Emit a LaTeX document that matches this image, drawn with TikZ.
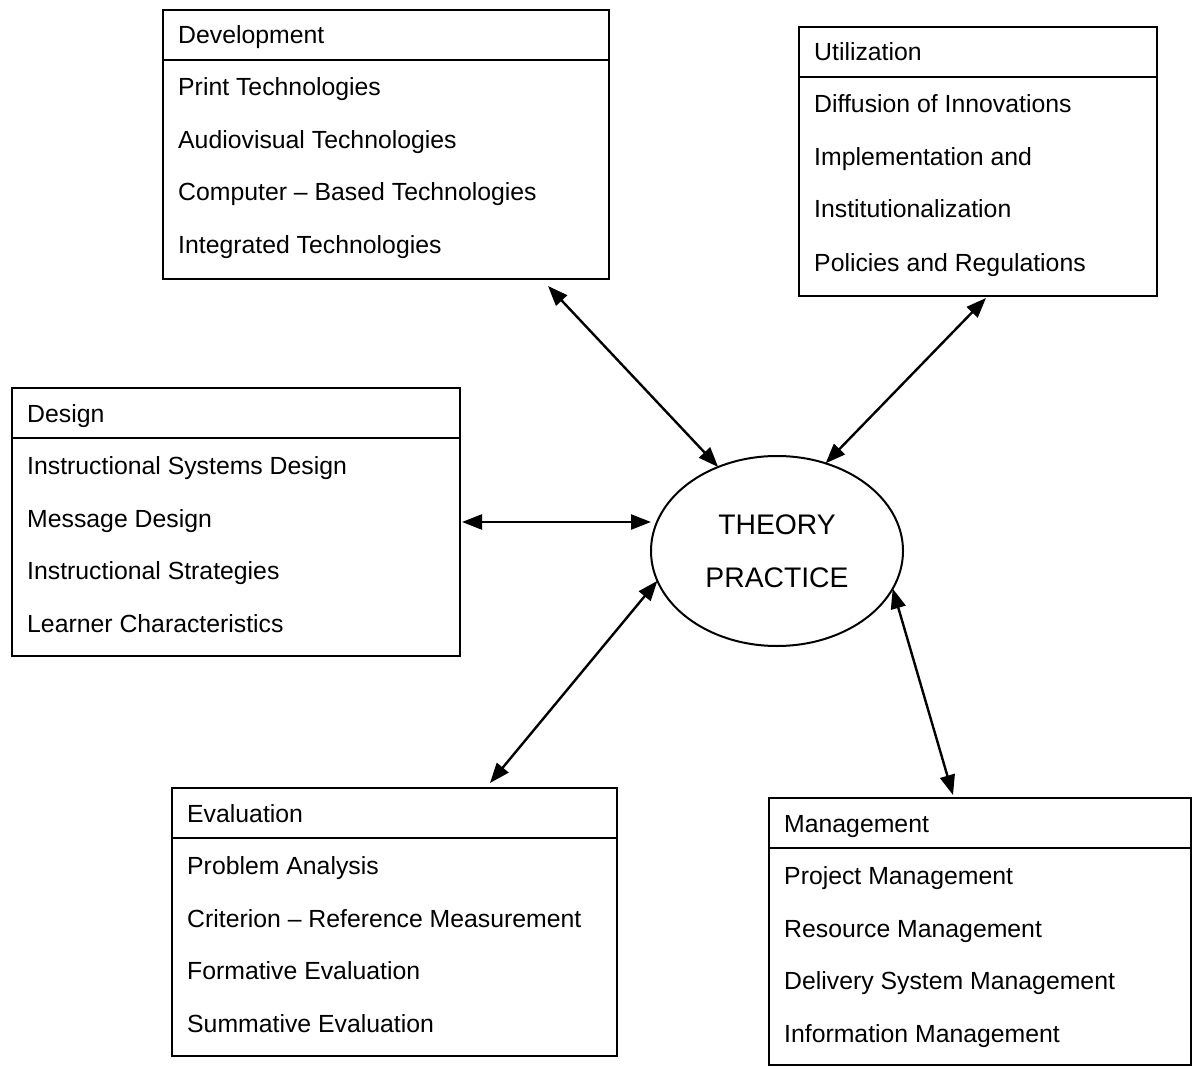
\documentclass[tikz,border=0pt]{standalone}
\usepackage{fontspec}
\setmainfont{Liberation Sans}
\usetikzlibrary{arrows.meta,shapes.geometric}
\tikzset{
  box/.style={draw, line width=1.8pt, rectangle, anchor=north west, inner sep=0pt, outer sep=0pt},
  boxline/.style={line width=1.8pt},
  lbl/.style={anchor=base west, inner sep=0pt, font=\fontsize{24.8}{30}\selectfont},
  arr/.style={line width=2.4pt, {Triangle[length=20pt,width=15pt]}-{Triangle[length=20pt,width=15pt]}},
  core/.style={draw, ellipse, line width=2pt, minimum width=252pt, minimum height=190pt, inner sep=0pt, outer sep=0pt, align=center, font=\fontsize{28.3}{53}\selectfont}
}
\newcommand{\mybox}[9]{%
  \node[box, minimum width=#4pt, minimum height=#5pt] (#1) at (#2,#3) {};
  \draw[boxline] ([yshift=-50pt]#1.north west) -- ([yshift=-50pt]#1.north east);
  \node[lbl] (#1-h) at ([shift={(15pt,-34pt)}]#1.north west) {#6};
  \node[lbl] (#1-1) at ([shift={(15pt,-86pt)}]#1.north west) {#7};
  \node[lbl] (#1-2) at ([shift={(15pt,-139pt)}]#1.north west) {#8};
  \node[lbl] (#1-3) at ([shift={(15pt,-191pt)}]#1.north west) {#9};
}
\begin{document}
\begin{tikzpicture}[x=1pt,y=-1pt]
\useasboundingbox[fill=white] (0,0) rectangle (1197,1075);
\mybox{dev}{163}{10}{446}{269}{Development}{Print Technologies}{Audiovisual Technologies}{Computer – Based Technologies}
\node[lbl] (dev-4) at ([shift={(15pt,-244pt)}]dev.north west) {Integrated Technologies};
\mybox{util}{799}{27}{358}{269}{Utilization}{Diffusion of Innovations}{Implementation and}{Institutionalization}
\node[lbl] (util-4) at ([shift={(15pt,-245pt)}]util.north west) {Policies and Regulations};
\mybox{des}{12}{388}{448}{268}{Design}{Instructional Systems Design}{Message Design}{Instructional Strategies}
\node[lbl] (des-4) at ([shift={(15pt,-244pt)}]des.north west) {Learner Characteristics};
\mybox{eval}{172}{788}{445}{268}{Evaluation}{Problem Analysis}{Criterion – Reference Measurement}{Formative Evaluation}
\node[lbl] (eval-4) at ([shift={(15pt,-244pt)}]eval.north west) {Summative Evaluation};
\mybox{mgmt}{769}{798}{422}{267}{Management}{Project Management}{Resource Management}{Delivery System Management}
\node[lbl] (mgmt-4) at ([shift={(15pt,-244pt)}]mgmt.north west) {Information Management};
\node[core] (th) at (777,551) {THEORY\\PRACTICE};
\draw[arr] ([shift={(-61pt,-7pt)}]dev.south east) -- (th.125);
\draw[arr] ([shift={(187pt,-2pt)}]util.south west) -- (th.61);
\draw[arr] ([xshift=2pt]des.east) -- (des.east -| th.west);
\draw[arr] ([shift={(318pt,5pt)}]eval.north west) -- (th.194);
\draw[arr] ([shift={(184pt,3pt)}]mgmt.north west) -- (th.-18);
\end{tikzpicture}
\end{document}
